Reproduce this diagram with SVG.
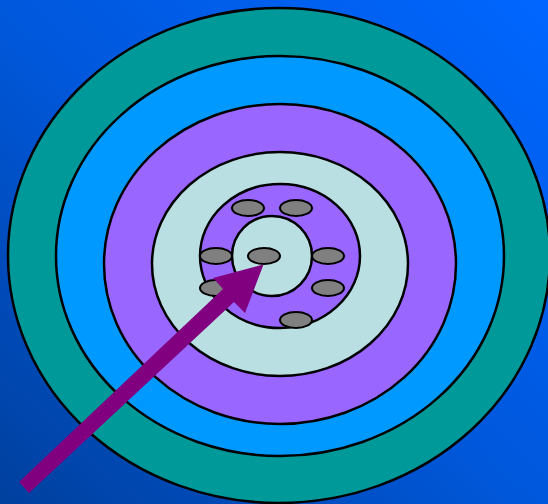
<svg xmlns="http://www.w3.org/2000/svg" width="548" height="504" viewBox="0 0 548 504">
<defs>
<linearGradient id="bg" x1="1" y1="0" x2="0" y2="1">
<stop offset="0" stop-color="#0066ff"/>
<stop offset="0.5" stop-color="#0058dc"/>
<stop offset="1" stop-color="#00409e"/>
</linearGradient>
<style>
.ring{stroke:#000;stroke-width:2.5}
.dot{fill:#808080;stroke:#000;stroke-width:2}
</style>
</defs>
<rect width="548" height="504" fill="url(#bg)"/>
<g id="ring1"><ellipse class="ring" cx="279" cy="255.5" rx="271" ry="247.5" fill="#009999"/></g>
<g id="ring2"><ellipse class="ring" cx="280" cy="256" rx="224" ry="200" fill="#0099ff"/></g>
<g id="ring3"><ellipse class="ring" cx="280" cy="264" rx="176" ry="160" fill="#9966ff"/></g>
<g id="ring4"><ellipse class="ring" cx="280" cy="264" rx="128" ry="112" fill="#b9dfe2"/></g>
<g id="ring5"><ellipse class="ring" cx="280" cy="256" rx="80" ry="72" fill="#9966ff"/></g>
<g id="center"><ellipse class="ring" cx="272" cy="256" rx="40" ry="40" fill="#b9dfe2"/></g>
<g id="dots">
<ellipse class="dot" cx="248" cy="208" rx="16" ry="8"/>
<ellipse class="dot" cx="296" cy="208" rx="16" ry="8"/>
<ellipse class="dot" cx="216" cy="256" rx="16" ry="8"/>
<ellipse class="dot" cx="264" cy="256" rx="16" ry="8"/>
<ellipse class="dot" cx="328" cy="256" rx="16" ry="8"/>
<ellipse class="dot" cx="216" cy="288" rx="16" ry="8"/>
<ellipse class="dot" cx="328" cy="288" rx="16" ry="8"/>
<ellipse class="dot" cx="296" cy="320" rx="16" ry="8"/>
</g>
<g id="connectors">
<polygon points="19,482 223,289 213,278 263.5,264.5 245,313 234,302 29,493" fill="#800080"/>
</g>
</svg>
